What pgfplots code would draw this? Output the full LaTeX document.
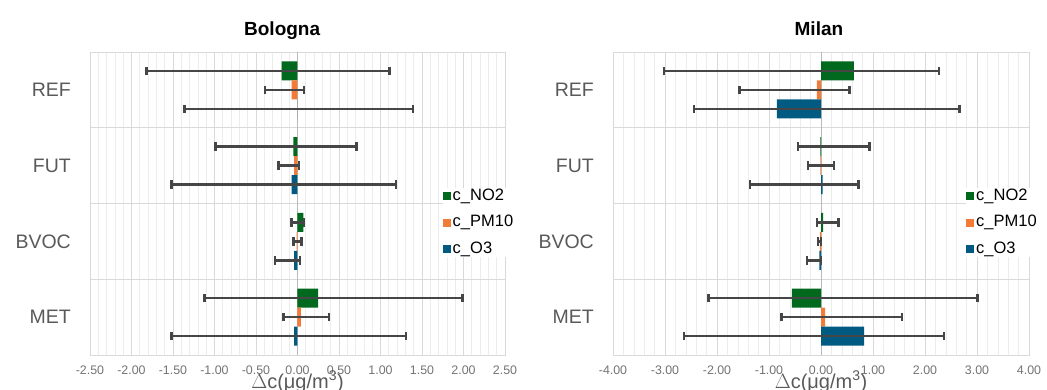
\documentclass[border=0pt]{standalone}
\usepackage{pgfplots}
\pgfplotsset{compat=1.18}
\usepackage{pgfplotstable}
\usepackage{fontspec}
\setmainfont{Liberation Sans}
\definecolor{cno2}{RGB}{0,105,30}
\definecolor{cpm}{RGB}{244,122,56}
\definecolor{co3}{RGB}{0,90,130}
\definecolor{errc}{RGB}{70,70,70}
\definecolor{gridmaj}{RGB}{217,217,217}
\definecolor{gridmin}{RGB}{236,236,236}
\definecolor{zeroc}{RGB}{185,185,185}
\definecolor{ticklab}{RGB}{115,115,115}
\definecolor{catlab}{RGB}{89,89,89}

% cat: 0=REF 1=FUT 2=BVOC 3=MET ; v = value, ep/em = error plus/minus
\pgfplotstableread{
cat v ep em
0 -0.19 1.30 1.63
1 -0.05 0.76 0.94
2 0.07 0.01 0.14
3 0.25 1.74 1.37
}\BoNO
\pgfplotstableread{
cat v ep em
0 -0.07 0.15 0.32
1 -0.04 0.06 0.19
2 -0.01 0.06 0.04
3 0.04 0.34 0.21
}\BoPM
\pgfplotstableread{
cat v ep em
0 0.00 1.39 1.36
1 -0.07 1.26 1.45
2 -0.04 0.07 0.23
3 -0.04 1.35 1.48
}\BoO
\pgfplotstableread{
cat v ep em
0 0.63 1.64 3.65
1 -0.01 0.94 0.43
2 0.04 0.30 0.12
3 -0.56 3.57 1.60
}\MiNO
\pgfplotstableread{
cat v ep em
0 -0.08 0.63 1.49
1 -0.01 0.26 0.24
2 -0.02 0.02 0.04
3 0.08 1.48 0.84
}\MiPM
\pgfplotstableread{
cat v ep em
0 -0.85 3.51 1.59
1 0.03 0.69 1.40
2 -0.03 0.03 0.24
3 0.83 1.53 3.46
}\MiO

\pgfplotsset{
  cityaxis/.style={
    scale only axis, height=303pt,
    xbar, bar width=0.25,
    y dir=reverse, ymin=-0.5, ymax=3.5,
    ytick={0,1,2,3}, yticklabels={REF,FUT,BVOC,MET},
    minor ytick={0.5,1.5,2.5}, yminorgrids=true,
    minor y grid style={gridmaj, line width=0.8pt},
    xmajorgrids=true, xminorgrids=true, minor x tick num=4,
    major x grid style={gridmaj, line width=0.7pt},
    minor x grid style={gridmin, line width=0.6pt},
    major tick length=0pt, minor tick length=0pt,
    axis line style={gridmaj, line width=0.8pt},
    yticklabel style={font=\fontsize{19.5}{22}\selectfont, text=catlab, inner sep=0pt, anchor=east, xshift=-19pt},
    xticklabel style={font=\fontsize{12.4}{14}\selectfont, text=ticklab, inner sep=0pt, anchor=north, yshift=-10.5pt},
    /pgf/number format/fixed, /pgf/number format/fixed zerofill,
    /pgf/number format/precision=2, /pgf/number format/assume math mode=true,
    xlabel={$\Delta$c(μg/m\textsuperscript{3})},
    xlabel style={font=\fontsize{20}{24}\selectfont, text=catlab, at={(axis description cs:0.5,0)}, anchor=base, yshift=-33pt, inner sep=0pt},
    title style={font=\bfseries\fontsize{19}{22}\selectfont, anchor=base, inner sep=0pt},
    legend cell align=left,
    legend image code/.code={\fill[##1,draw=none] (0pt,-4pt) rectangle (8pt,4pt);},
    legend style={draw=none, fill=white, inner sep=0pt, outer sep=0pt,
      anchor=north west, row sep=11pt, column sep=2pt,
      font=\fontsize{16.5}{18}\selectfont,
      nodes={inner sep=0pt, text height=12pt, text depth=3.5pt}},
  },
  errs/.style={
    /pgfplots/error bars/x dir=both, /pgfplots/error bars/x explicit,
    /pgfplots/error bars/error mark=|,
    /pgfplots/error bars/error bar style={draw=errc, line width=2.6pt},
    /pgfplots/error bars/error mark options={draw=errc, line width=2.4pt, mark size=4.2pt},
  },
}

\begin{document}
\begin{tikzpicture}
\useasboundingbox (0pt,0pt) rectangle (1047pt,-390pt);

\begin{axis}[cityaxis, width=415pt, at={(90pt,-355pt)}, anchor=south west,
  xmin=-2.5, xmax=2.5, xtick={-2.5,-2,...,2.5},
  title={Bologna}, title style={at={(axis description cs:0.463,1)}, yshift=11pt},
  legend style={at={(axis description cs:0.85,0.55)}}]
  \draw[zeroc, line width=1pt] (axis cs:0,-0.5) -- (axis cs:0,3.5);
  \addplot[fill=cno2, draw=none, bar shift=-0.25, errs] table[x=v, y=cat, x error plus=ep, x error minus=em] {\BoNO};
  \addplot[fill=cpm, draw=none, bar shift=0, errs] table[x=v, y=cat, x error plus=ep, x error minus=em] {\BoPM};
  \addplot[fill=co3, draw=none, bar shift=0.25, errs] table[x=v, y=cat, x error plus=ep, x error minus=em] {\BoO};
  \legend{c\_NO2, c\_PM10, c\_O3}
\end{axis}

\begin{axis}[cityaxis, width=416pt, at={(613pt,-355pt)}, anchor=south west,
  xmin=-4, xmax=4, xtick={-4,-3,...,4},
  title={Milan}, title style={at={(axis description cs:0.495,1)}, yshift=11pt},
  legend style={at={(axis description cs:0.849,0.55)}}]
  \draw[zeroc, line width=1pt] (axis cs:0,-0.5) -- (axis cs:0,3.5);
  \addplot[fill=cno2, draw=none, bar shift=-0.25, errs] table[x=v, y=cat, x error plus=ep, x error minus=em] {\MiNO};
  \addplot[fill=cpm, draw=none, bar shift=0, errs] table[x=v, y=cat, x error plus=ep, x error minus=em] {\MiPM};
  \addplot[fill=co3, draw=none, bar shift=0.25, errs] table[x=v, y=cat, x error plus=ep, x error minus=em] {\MiO};
  \legend{c\_NO2, c\_PM10, c\_O3}
\end{axis}
\end{tikzpicture}
\end{document}
